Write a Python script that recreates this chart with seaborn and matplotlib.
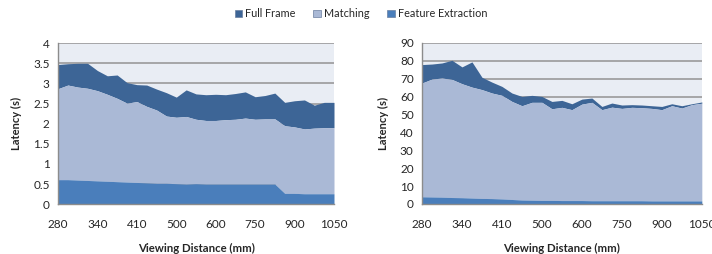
import numpy as np
import pandas as pd
import seaborn as sns
import matplotlib.pyplot as plt

# viewing distances (mm), every 4th one is labelled on the axis
distances = [280, 295, 310, 325, 340, 357, 375, 392, 410, 432, 455, 477, 500, 525, 550,
             575, 600, 637, 675, 712, 750, 787, 825, 862, 900, 937, 975, 1012, 1050]

# left chart (s)
fe_left = [0.61, 0.61, 0.60, 0.59, 0.58, 0.57, 0.56, 0.55, 0.54, 0.53, 0.52, 0.52, 0.51, 0.50, 0.51,
           0.50, 0.50, 0.50, 0.50, 0.50, 0.50, 0.50, 0.50, 0.27, 0.27, 0.26, 0.26, 0.26, 0.26]
match_top_left = [2.87, 2.96, 2.91, 2.88, 2.82, 2.73, 2.63, 2.51, 2.55, 2.43, 2.34, 2.19, 2.16, 2.18, 2.11,
                  2.08, 2.08, 2.10, 2.11, 2.14, 2.11, 2.12, 2.12, 1.95, 1.92, 1.87, 1.89, 1.90, 1.90]
total_left = [3.47, 3.49, 3.50, 3.50, 3.32, 3.19, 3.21, 3.02, 2.97, 2.96, 2.86, 2.77, 2.66, 2.84, 2.74,
              2.72, 2.73, 2.72, 2.75, 2.79, 2.67, 2.70, 2.76, 2.53, 2.57, 2.59, 2.46, 2.53, 2.53]

# right chart (s)
fe_right = [4.0, 3.9, 3.8, 3.6, 3.5, 3.3, 3.1, 3.0, 2.8, 2.5, 2.2, 2.1, 2.0, 2.0, 1.9,
            1.9, 1.9, 1.8, 1.8, 1.8, 1.8, 1.8, 1.8, 1.7, 1.7, 1.7, 1.7, 1.7, 1.7]
match_top_right = [67.6, 69.8, 70.4, 69.6, 67.2, 65.3, 63.9, 62.0, 60.7, 57.3, 54.9, 56.8, 56.8, 53.2, 54.0,
                   52.7, 55.8, 56.8, 52.7, 54.1, 53.4, 54.0, 53.8, 53.4, 52.7, 54.9, 53.6, 55.5, 56.3]
total_right = [77.9, 78.2, 78.8, 80.3, 76.6, 79.4, 70.8, 68.1, 65.7, 62.0, 60.1, 60.7, 60.1, 57.3, 57.9,
               56.0, 58.6, 59.2, 54.5, 56.4, 55.3, 55.5, 55.3, 54.9, 54.5, 56.0, 54.9, 56.0, 57.0]

series = ['Full Frame', 'Matching', 'Feature Extraction']
colors = {'Full Frame': '#3D6596', 'Matching': '#AAB9D6', 'Feature Extraction': '#4A7EBB'}

sns.set_style('white', {'axes.facecolor': '#E9EDF4', 'axes.edgecolor': '#8C8C8C'})
plt.rcParams['font.family'] = ['Lato', 'DejaVu Sans']

fig = plt.figure(figsize=(7.12, 2.54), dpi=100)
ax1 = fig.add_axes([0.0815, 0.196, 0.3876, 0.634])
ax2 = fig.add_axes([0.5927, 0.197, 0.393, 0.634])


def draw(ax, fe, mtop, total, ymax, ystep):
    df = pd.DataFrame({'d': distances, 'fe': fe, 'm': mtop, 't': total})
    x = np.arange(len(df))
    ax.fill_between(x, df['m'], df['t'], color=colors['Full Frame'], lw=0, zorder=2)
    ax.fill_between(x, df['fe'], df['m'], color=colors['Matching'], lw=0, zorder=2)
    ax.fill_between(x, 0, df['fe'], color=colors['Feature Extraction'], lw=0, zorder=2)
    ax.set_xlim(0, len(df) - 1)
    ax.set_ylim(0, ymax)
    yt = np.arange(0, ymax + ystep / 2, ystep)
    ax.set_yticks(yt)
    ax.set_yticklabels(['%g' % v for v in yt], fontsize=8.5)
    for v in yt[1:]:
        ax.axhline(v, color='#9A9A9A', lw=1.2, zorder=1)
    ax.set_xticks(x[::4])
    ax.set_xticklabels([str(d) for d in df['d'][::4]], fontsize=8.5)
    ax.tick_params(axis='x', length=0, pad=11)
    ax.tick_params(axis='y', length=0, pad=6)
    ax.set_xlabel('Viewing Distance (mm)', fontsize=8.2, fontweight='bold', labelpad=9)
    ax.set_ylabel('Latency (s)', fontsize=8, fontweight='bold', labelpad=8)
    for s in ['top', 'right']:
        ax.spines[s].set_visible(False)
    for s in ['left', 'bottom']:
        ax.spines[s].set_linewidth(1.0)
    ax.spines['bottom'].set_zorder(3)


draw(ax1, fe_left, match_top_left, total_left, 4, 0.5)
draw(ax2, fe_right, match_top_right, total_right, 90, 10)

handles = [plt.Rectangle((0, 0), 1, 1, facecolor=colors[s], edgecolor='#6A7FA0', lw=0.5) for s in series]
fig.legend(handles, series, loc='center', bbox_to_anchor=(0.507, 0.945), ncol=3, frameon=False,
           fontsize=7.8, handlelength=0.7, handleheight=0.7, handletextpad=0.3, columnspacing=1.6)

fig.savefig('out.png', dpi=100)
